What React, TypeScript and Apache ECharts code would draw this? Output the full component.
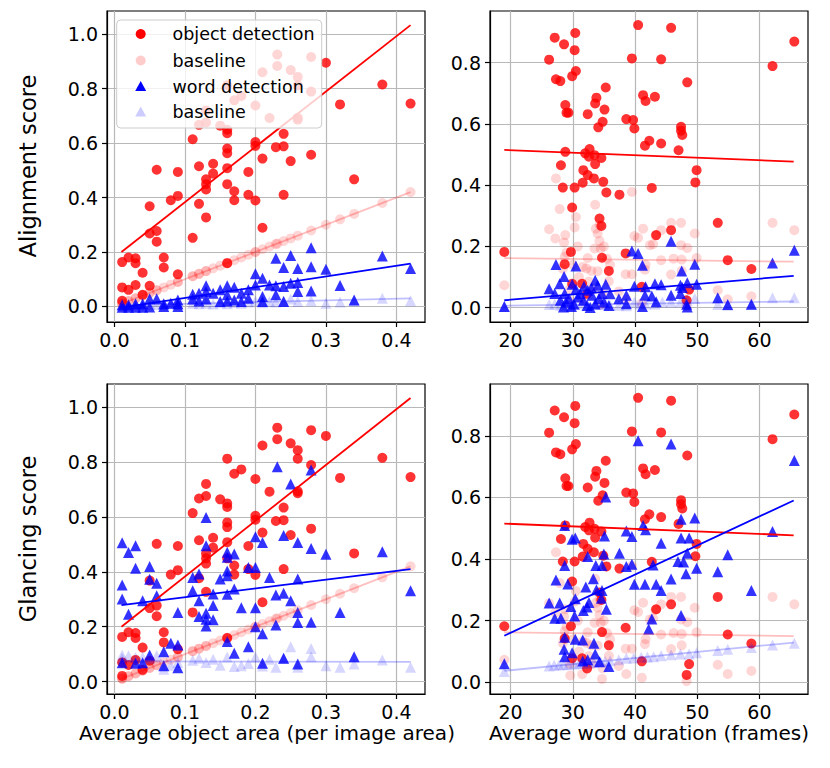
import React, { useEffect, useRef } from "react";
import * as echarts from "echarts";

// ---------- tick labels ----------
const ticksArea = [0, 0.1, 0.2, 0.3, 0.4];
const ticksDur = [20, 30, 40, 50, 60];
const ticksScoreLeft = [0, 0.2, 0.4, 0.6, 0.8, 1.0];
const ticksScoreRight = [0, 0.2, 0.4, 0.6, 0.8];

// ---------- left panels: x = average object area ----------
const objDetLeft: [number, number][] = [
  [0.231, 0.925], [0.231, 0.883], [0.21, 0.86], [0.25, 0.868], [0.26, 0.843], [0.26, 0.812],
  [0.279, 0.916], [0.3, 0.895], [0.38, 0.815], [0.42, 0.745], [0.32, 0.742], [0.16, 0.812],
  [0.17, 0.757], [0.18, 0.773], [0.2, 0.738], [0.22, 0.692], [0.26, 0.693], [0.26, 0.686],
  [0.279, 0.789], [0.13, 0.72], [0.12, 0.667], [0.13, 0.676], [0.15, 0.664], [0.16, 0.649],
  [0.16, 0.636], [0.111, 0.614], [0.34, 0.467], [0.279, 0.557], [0.24, 0.634], [0.229, 0.585],
  [0.24, 0.588], [0.25, 0.534], [0.2, 0.604], [0.2, 0.59], [0.21, 0.543], [0.19, 0.494],
  [0.19, 0.41], [0.2, 0.389], [0.24, 0.41], [0.21, 0.289], [0.16, 0.58], [0.16, 0.563],
  [0.16, 0.508], [0.16, 0.449], [0.17, 0.423], [0.17, 0.39], [0.12, 0.515], [0.14, 0.524],
  [0.14, 0.488], [0.13, 0.467], [0.13, 0.449], [0.13, 0.43], [0.12, 0.377], [0.13, 0.327],
  [0.111, 0.252], [0.09, 0.494], [0.09, 0.406], [0.08, 0.39], [0.06, 0.502], [0.05, 0.368],
  [0.05, 0.268], [0.06, 0.277], [0.06, 0.238], [0.07, 0.18], [0.07, 0.143], [0.09, 0.118],
  [0.03, 0.177], [0.03, 0.159], [0.02, 0.18], [0.011, 0.163], [0.04, 0.124], [0.03, 0.079],
  [0.05, 0.076], [0.011, 0.07], [0.02, 0.061], [0.04, 0.043], [0.011, 0.021], [0.16, 0.159],
];
const objBaseLeft: [number, number][] = [
  [0.011, 0.011], [0.011, 0.011], [0.011, 0.011], [0.02, 0.02], [0.02, 0.02], [0.03, 0.03],
  [0.03, 0.03], [0.04, 0.04], [0.04, 0.04], [0.05, 0.05], [0.05, 0.05], [0.06, 0.06],
  [0.06, 0.06], [0.07, 0.07], [0.08, 0.08], [0.09, 0.09], [0.09, 0.09], [0.111, 0.111],
  [0.111, 0.111], [0.12, 0.12], [0.12, 0.12], [0.13, 0.13], [0.13, 0.13], [0.14, 0.14],
  [0.15, 0.15], [0.16, 0.16], [0.16, 0.16], [0.17, 0.17], [0.18, 0.18], [0.19, 0.19],
  [0.2, 0.2], [0.2, 0.2], [0.21, 0.21], [0.22, 0.22], [0.229, 0.229], [0.231, 0.231],
  [0.24, 0.24], [0.25, 0.25], [0.26, 0.26], [0.279, 0.279], [0.3, 0.3], [0.32, 0.32],
  [0.34, 0.34], [0.38, 0.38], [0.42, 0.42],
];
const wordAlignLeft: [number, number][] = [
  [0.279, 0.216], [0.38, 0.185], [0.42, 0.139], [0.25, 0.187], [0.229, 0.177], [0.24, 0.143],
  [0.26, 0.139], [0.279, 0.146], [0.3, 0.137], [0.32, 0.077], [0.34, 0.024], [0.279, 0.057],
  [0.26, 0.055], [0.26, 0.088], [0.25, 0.085], [0.24, 0.073], [0.229, 0.076], [0.22, 0.079],
  [0.2, 0.12], [0.21, 0.104], [0.2, 0.079], [0.19, 0.061], [0.18, 0.049], [0.19, 0.03],
  [0.21, 0.037], [0.229, 0.043], [0.24, 0.018], [0.21, 0.018], [0.17, 0.071], [0.16, 0.076],
  [0.15, 0.061], [0.16, 0.043], [0.17, 0.024], [0.13, 0.076], [0.13, 0.055], [0.14, 0.049],
  [0.12, 0.049], [0.111, 0.045], [0.111, 0.027], [0.13, 0.027], [0.09, 0.024], [0.09, 0.01],
  [0.08, 0.012], [0.07, 0.01], [0.06, 0.028], [0.05, 0.028], [0.04, 0.01], [0.03, 0.01],
  [0.02, 0.006], [0.011, 0.006], [0.011, -0.003], [0.02, -0.003], [0.03, -0.003], [0.04, -0.003],
  [0.05, -0.002], [0.07, 0.0], [0.09, 0.0], [0.15, 0.018], [0.18, 0.018], [0.16, 0.02], [0.12, 0.02],
];
const wordAlignBaseLeft: [number, number][] = [
  [0.011, 0.004], [0.02, 0.005], [0.03, 0.006], [0.04, 0.005], [0.05, 0.008], [0.06, 0.007],
  [0.07, 0.006], [0.08, 0.01], [0.09, 0.008], [0.111, 0.012], [0.12, 0.01], [0.13, 0.012],
  [0.14, 0.009], [0.15, 0.014], [0.16, 0.01], [0.17, 0.015], [0.18, 0.012], [0.19, 0.016],
  [0.2, 0.02], [0.21, 0.014], [0.22, 0.018], [0.229, 0.016], [0.24, 0.02], [0.25, 0.027],
  [0.26, 0.018], [0.279, 0.021], [0.3, 0.012], [0.32, 0.016], [0.34, 0.02], [0.38, 0.03],
  [0.42, 0.021],
];
const wordGlanceLeft: [number, number][] = [
  [0.231, 0.783], [0.279, 0.771], [0.25, 0.72], [0.13, 0.598], [0.2, 0.528], [0.21, 0.507],
  [0.24, 0.532], [0.26, 0.507], [0.279, 0.485], [0.3, 0.464], [0.38, 0.473], [0.42, 0.331],
  [0.32, 0.252], [0.34, 0.091], [0.011, 0.506], [0.02, 0.47], [0.03, 0.495], [0.03, 0.413],
  [0.05, 0.419], [0.05, 0.373], [0.06, 0.358], [0.011, 0.352], [0.011, 0.301], [0.04, 0.295],
  [0.06, 0.313], [0.02, 0.245], [0.09, 0.252], [0.13, 0.495], [0.16, 0.471], [0.16, 0.453],
  [0.17, 0.465], [0.16, 0.403], [0.16, 0.386], [0.15, 0.374], [0.111, 0.379], [0.12, 0.392],
  [0.111, 0.331], [0.12, 0.295], [0.14, 0.319], [0.16, 0.318], [0.17, 0.337], [0.14, 0.277],
  [0.12, 0.237], [0.13, 0.249], [0.13, 0.227], [0.14, 0.225], [0.13, 0.203], [0.18, 0.269],
  [0.19, 0.416], [0.2, 0.416], [0.2, 0.269], [0.22, 0.379], [0.229, 0.316], [0.24, 0.322],
  [0.25, 0.295], [0.26, 0.374], [0.26, 0.252], [0.26, 0.215], [0.279, 0.216], [0.229, 0.206],
  [0.2, 0.2], [0.21, 0.174], [0.19, 0.127], [0.16, 0.146], [0.17, 0.103], [0.08, 0.14],
  [0.09, 0.133], [0.05, 0.097], [0.07, 0.109], [0.011, 0.069], [0.03, 0.067], [0.04, 0.069],
  [0.07, 0.058], [0.09, 0.051], [0.21, 0.067], [0.24, 0.085], [0.26, 0.064],
];
const wordGlanceBaseLeft: [number, number][] = [
  [0.011, 0.097], [0.011, 0.085], [0.02, 0.094], [0.03, 0.088], [0.04, 0.09], [0.05, 0.083],
  [0.06, 0.095], [0.07, 0.045], [0.08, 0.06], [0.09, 0.07], [0.111, 0.078], [0.12, 0.085],
  [0.13, 0.07], [0.14, 0.082], [0.15, 0.06], [0.16, 0.09], [0.17, 0.055], [0.18, 0.058],
  [0.19, 0.066], [0.2, 0.09], [0.21, 0.057], [0.22, 0.082], [0.229, 0.052], [0.24, 0.084],
  [0.25, 0.127], [0.26, 0.052], [0.279, 0.121], [0.279, 0.091], [0.3, 0.058], [0.32, 0.052],
  [0.34, 0.064], [0.38, 0.079], [0.42, 0.052],
];

// ---------- right panels: x = average word duration ----------
const objDetRight: [number, number][] = [
  [40.5, 0.923], [45.8, 0.914], [65.6, 0.869], [62.1, 0.789], [27.1, 0.882], [28.6, 0.86],
  [30.4, 0.897], [30.3, 0.841], [26.2, 0.81], [39.5, 0.814], [44.2, 0.811], [30.5, 0.773],
  [29.9, 0.756], [27.3, 0.746], [28.0, 0.74], [48.4, 0.736], [35.3, 0.719], [41.3, 0.694],
  [41.7, 0.675], [43.2, 0.689], [33.8, 0.686], [33.6, 0.667], [35.1, 0.647], [28.8, 0.662],
  [29.0, 0.637], [29.3, 0.637], [32.4, 0.632], [38.6, 0.616], [39.7, 0.613], [39.9, 0.585],
  [34.8, 0.607], [34.1, 0.589], [47.4, 0.591], [47.4, 0.578], [47.6, 0.564], [42.3, 0.545],
  [41.6, 0.529], [44.2, 0.536], [47.0, 0.514], [28.8, 0.509], [32.7, 0.518], [32.0, 0.504],
  [32.6, 0.493], [33.5, 0.498], [34.6, 0.489], [33.6, 0.469], [28.1, 0.465], [31.7, 0.449],
  [32.4, 0.433], [33.4, 0.422], [31.6, 0.408], [34.9, 0.411], [28.4, 0.392], [30.3, 0.392],
  [35.4, 0.376], [37.5, 0.369], [42.7, 0.391], [49.9, 0.449], [49.7, 0.409], [29.9, 0.327],
  [34.3, 0.291], [34.6, 0.267], [53.3, 0.277], [45.8, 0.253], [43.4, 0.237], [19.0, 0.182],
  [29.7, 0.182], [38.5, 0.177], [28.7, 0.142], [34.7, 0.163], [35.8, 0.12], [54.9, 0.155],
  [58.7, 0.126], [29.9, 0.078], [31.5, 0.078], [41.1, 0.068], [48.7, 0.059], [48.3, 0.024],
  [32.3, 0.045],
];
const objBaseRight: [number, number][] = [
  [27.3, 0.422], [27.9, 0.322], [30.5, 0.296], [30.3, 0.262], [26.2, 0.256], [28.8, 0.237],
  [27.2, 0.226], [28.6, 0.213], [33.6, 0.336], [33.7, 0.258], [34.0, 0.242], [34.3, 0.218],
  [33.5, 0.193], [34.5, 0.193], [39.5, 0.378], [39.9, 0.234], [41.3, 0.258], [40.5, 0.228],
  [42.4, 0.204], [42.9, 0.207], [44.2, 0.253], [45.8, 0.277], [47.4, 0.277], [49.6, 0.242],
  [47.4, 0.204], [48.4, 0.195], [47.5, 0.157], [49.9, 0.162], [44.2, 0.155], [41.6, 0.124],
  [39.5, 0.109], [38.5, 0.109], [45.8, 0.108], [47.5, 0.12], [62.1, 0.277], [65.6, 0.253],
  [53.3, 0.057], [54.9, 0.027], [58.7, 0.037], [19.0, 0.073], [28.7, 0.166], [31.6, 0.133],
  [32.4, 0.162], [32.2, 0.128], [34.0, 0.119], [35.8, 0.086], [37.4, 0.053], [29.0, 0.18],
  [30.0, 0.14], [31.0, 0.1], [32.6, 0.085], [33.2, 0.06], [34.8, 0.045], [35.5, 0.16],
  [35.0, 0.2], [30.8, 0.2], [29.5, 0.06], [29.6, 0.022], [31.5, 0.026], [34.7, 0.011],
  [38.6, 0.027], [41.1, 0.015], [48.3, 0.004], [36.0, 0.14], [28.4, 0.127], [34.3, 0.27],
  [33.0, 0.12], [41.7, 0.14], [43.3, 0.235], [46.2, 0.16],
];
const wordAlignRight: [number, number][] = [
  [45.8, 0.217], [39.5, 0.185], [40.5, 0.177], [65.6, 0.187], [62.1, 0.146], [41.2, 0.138],
  [49.6, 0.142], [27.3, 0.141], [30.5, 0.136], [47.5, 0.12], [28.6, 0.102], [33.6, 0.089],
  [27.9, 0.078], [26.2, 0.062], [29.9, 0.076], [32.4, 0.057], [34.0, 0.073], [35.3, 0.076],
  [37.4, 0.029], [38.6, 0.04], [39.9, 0.07], [41.7, 0.068], [43.2, 0.078], [44.2, 0.075],
  [45.8, 0.04], [47.3, 0.073], [48.4, 0.081], [49.9, 0.076], [53.3, 0.032], [54.9, 0.01],
  [58.7, 0.011], [19.0, 0.004], [38.6, 0.013], [41.2, 0.004], [43.4, 0.019], [48.3, 0.011],
  [48.4, 0.002], [27.1, 0.046], [28.7, 0.046], [28.9, 0.018], [29.4, 0.03], [30.2, 0.012],
  [31.2, 0.045], [31.7, 0.024], [32.3, 0.007], [33.1, 0.04], [34.2, 0.03], [34.7, 0.046],
  [35.0, 0.018], [35.8, 0.007], [33.6, 0.012], [29.8, 0.004], [28.5, 0.002], [28.0, 0.024],
  [47.3, 0.046], [47.6, 0.066], [41.6, 0.04], [42.7, 0.038], [30.5, 0.06], [31.8, 0.07],
  [33.0, 0.065], [36.0, 0.045], [32.8, 0.0], [30.8, 0.035],
];
const wordAlignBaseRight: [number, number][] = [
  [19.0, 0.004], [26.2, 0.01], [27.1, 0.012], [28.0, 0.008], [28.7, 0.012], [29.5, 0.006],
  [30.3, 0.01], [31.5, 0.012], [32.4, 0.008], [33.6, 0.011], [34.6, 0.01], [35.3, 0.012],
  [36.0, 0.008], [37.4, 0.008], [38.6, 0.006], [39.9, 0.018], [40.8, 0.012], [41.7, 0.012],
  [43.2, 0.012], [44.4, 0.018], [45.8, 0.018], [47.3, 0.018], [48.4, 0.024], [49.6, 0.03],
  [53.3, 0.01], [54.9, 0.008], [58.7, 0.01], [62.1, 0.032], [65.6, 0.032],
];
const wordGlanceRight: [number, number][] = [
  [40.5, 0.784], [45.8, 0.773], [65.6, 0.72], [35.3, 0.601], [62.1, 0.489], [28.7, 0.509],
  [49.6, 0.533], [47.4, 0.529], [41.3, 0.509], [41.7, 0.495], [38.6, 0.491], [39.5, 0.473],
  [35.1, 0.475], [30.4, 0.468], [29.9, 0.464], [47.4, 0.468], [48.7, 0.468], [44.2, 0.451],
  [48.4, 0.419], [54.9, 0.414], [37.5, 0.419], [35.0, 0.416], [32.4, 0.408], [46.9, 0.392],
  [47.8, 0.39], [49.9, 0.37], [42.9, 0.381], [39.5, 0.383], [38.6, 0.376], [33.7, 0.379],
  [34.7, 0.379], [28.7, 0.379], [48.2, 0.352], [53.3, 0.359], [27.3, 0.332], [29.2, 0.319],
  [33.3, 0.336], [39.9, 0.318], [41.6, 0.318], [43.4, 0.318], [45.8, 0.335], [44.2, 0.298],
  [32.1, 0.309], [33.8, 0.3], [34.7, 0.298], [34.6, 0.273], [58.7, 0.298], [26.2, 0.257],
  [27.9, 0.257], [29.7, 0.246], [30.4, 0.271], [32.6, 0.259], [32.3, 0.244], [31.7, 0.233],
  [35.4, 0.237], [27.1, 0.208], [28.1, 0.208], [30.3, 0.215], [47.4, 0.217], [42.7, 0.205],
  [42.2, 0.173], [28.7, 0.146], [30.4, 0.14], [31.6, 0.137], [33.4, 0.127], [28.6, 0.107],
  [29.9, 0.096], [33.6, 0.092], [31.6, 0.069], [32.4, 0.073], [34.3, 0.067], [35.8, 0.051],
  [19.0, 0.06], [28.7, 0.083],
];
const wordGlanceBaseRight: [number, number][] = [
  [19.0, 0.035], [26.2, 0.053], [27.0, 0.055], [27.8, 0.056], [28.5, 0.058], [29.3, 0.057],
  [30.2, 0.06], [31.0, 0.06], [31.8, 0.062], [32.6, 0.063], [33.4, 0.065], [34.5, 0.067],
  [35.2, 0.068], [36.0, 0.07], [37.4, 0.073], [38.6, 0.078], [39.8, 0.079], [41.0, 0.081],
  [42.0, 0.082], [43.0, 0.083], [44.2, 0.086], [45.8, 0.089], [47.3, 0.092], [48.7, 0.092],
  [49.9, 0.096], [53.3, 0.103], [54.9, 0.107], [58.7, 0.113], [62.1, 0.121], [65.6, 0.127],
];

// ---------- fitted lines (end points) ----------
const fitObjLeft: [number, number][] = [[0.01, 0.2], [0.42, 1.033]];
const fitObjBaseLeft: [number, number][] = [[0.01, 0.01], [0.42, 0.42]];
const fitWordAlignLeft: [number, number][] = [[0.01, -0.004], [0.42, 0.157]];
const fitWordAlignBaseLeft: [number, number][] = [[0.01, 0.004], [0.42, 0.03]];
const fitWordGlanceLeft: [number, number][] = [[0.01, 0.279], [0.42, 0.41]];
const fitWordGlanceBaseLeft: [number, number][] = [[0.01, 0.074], [0.42, 0.072]];
const fitObjRight: [number, number][] = [[19, 0.515], [65.5, 0.477]];
const fitObjBaseRight: [number, number][] = [[19, 0.162], [65.5, 0.15]];
const fitWordAlignRight: [number, number][] = [[19, 0.024], [65.5, 0.104]];
const fitWordAlignBaseRight: [number, number][] = [[19, 0.006], [65.5, 0.02]];
const fitWordGlanceRight: [number, number][] = [[19, 0.151], [65.5, 0.59]];
const fitWordGlanceBaseRight: [number, number][] = [[19, 0.037], [65.5, 0.129]];

const RED = "#ff0000";
const BLUE = "#0000ff";
const RED_L = "rgba(255,0,0,0.2)";
const BLUE_L = "rgba(0,0,255,0.2)";
const FONT = "DejaVu Sans";

function axis(gridIndex: number, min: number, max: number, ticks: number[], fmt: (v: number) => string) {
  return {
    type: "value",
    gridIndex,
    min,
    max,
    axisLine: { show: true, onZero: false, lineStyle: { color: "#000", width: 1.2 } },
    axisTick: { show: true, inside: false, length: 5, customValues: ticks, lineStyle: { color: "#000", width: 1.2 } },
    axisLabel: {
      show: true,
      customValues: ticks,
      formatter: (v: number) => fmt(v),
      margin: 9,
      color: "#000",
      fontSize: 19,
      lineHeight: 17,
      fontFamily: FONT,
    },
    splitLine: { show: true, lineStyle: { color: "#b8b8b8", width: 1.2 } },
  };
}

function scatter(name: string, idx: number, data: [number, number][], shape: string, color: string, size: number) {
  return {
    name,
    type: "scatter",
    xAxisIndex: idx,
    yAxisIndex: idx,
    data,
    symbol: shape,
    symbolSize: size,
    itemStyle: { color },
    z: 2,
    silent: true,
  };
}

function fit(idx: number, data: [number, number][], color: string) {
  return {
    type: "line",
    xAxisIndex: idx,
    yAxisIndex: idx,
    data,
    showSymbol: false,
    symbol: "none",
    lineStyle: { color, width: 1.8 },
    z: 3,
    silent: true,
  };
}

const f1 = (v: number) => v.toFixed(1);
const f0 = (v: number) => String(Math.round(v));

export default function App() {
  const ref = useRef<HTMLDivElement>(null);
  useEffect(() => {
    if (!ref.current) return;
    const chart = echarts.init(ref.current, undefined, { renderer: "svg" });
    const grids = [
      { left: 107, top: 11, width: 318, height: 311 },
      { left: 490, top: 11, width: 318, height: 311 },
      { left: 107, top: 384, width: 318, height: 310 },
      { left: 490, top: 384, width: 318, height: 310 },
    ].map((g) => ({ ...g, show: true, borderColor: "#000", borderWidth: 1.2, backgroundColor: "#fff", containLabel: false, outerBoundsMode: "none" }));

    const series: any[] = [];
    const panels = [
      { obj: objDetLeft, objB: objBaseLeft, w: wordAlignLeft, wB: wordAlignBaseLeft, fo: fitObjLeft, foB: fitObjBaseLeft, fw: fitWordAlignLeft, fwB: fitWordAlignBaseLeft },
      { obj: objDetRight, objB: objBaseRight, w: wordAlignRight, wB: wordAlignBaseRight, fo: fitObjRight, foB: fitObjBaseRight, fw: fitWordAlignRight, fwB: fitWordAlignBaseRight },
      { obj: objDetLeft, objB: objBaseLeft, w: wordGlanceLeft, wB: wordGlanceBaseLeft, fo: fitObjLeft, foB: fitObjBaseLeft, fw: fitWordGlanceLeft, fwB: fitWordGlanceBaseLeft },
      { obj: objDetRight, objB: objBaseRight, w: wordGlanceRight, wB: wordGlanceBaseRight, fo: fitObjRight, foB: fitObjBaseRight, fw: fitWordGlanceRight, fwB: fitWordGlanceBaseRight },
    ];
    panels.forEach((p, i) => {
      series.push(scatter("object detection", i, p.obj, "circle", RED, 10));
      series.push(scatter("baseline (object)", i, p.objB, "circle", RED_L, 10));
      series.push(scatter("word detection", i, p.w, "triangle", BLUE, 11));
      series.push(scatter("baseline (word)", i, p.wB, "triangle", BLUE_L, 11));
      series.push(fit(i, p.fo, RED));
      series.push(fit(i, p.foB, "rgba(255,0,0,0.25)"));
      series.push(fit(i, p.fw, BLUE));
      series.push(fit(i, p.fwB, "rgba(0,0,255,0.25)"));
    });

    const lx = 140.7;
    const ly = [34, 60.5, 86.5, 112];
    const legendText = ["object detection", "baseline", "word detection", "baseline"];
    const tri = (cx: number, cy: number) => [[cx, cy - 5.5], [cx - 5.5, cy + 4.5], [cx + 5.5, cy + 4.5]];

    const option: any = {
      animation: false,
      backgroundColor: "#fff",
      grid: grids,
      xAxis: [
        axis(0, -0.0105, 0.4405, ticksArea, f1),
        axis(1, 16.7, 67.8, ticksDur, f0),
        axis(2, -0.0105, 0.4405, ticksArea, f1),
        axis(3, 16.7, 67.8, ticksDur, f0),
      ],
      yAxis: [
        axis(0, -0.057, 1.085, ticksScoreLeft, f1),
        axis(1, -0.047, 0.969, ticksScoreRight, f1),
        axis(2, -0.045, 1.084, ticksScoreLeft, f1),
        axis(3, -0.038, 0.968, ticksScoreRight, f1),
      ],
      series,
      graphic: [
        {
          type: "rect",
          z: 100,
          shape: { x: 116.7, y: 20, width: 205, height: 108, r: 4 },
          style: { fill: "rgba(255,255,255,0.8)", stroke: "#cccccc", lineWidth: 1 },
        },
        { type: "circle", z: 101, shape: { cx: lx, cy: ly[0], r: 5 }, style: { fill: RED } },
        { type: "circle", z: 101, shape: { cx: lx, cy: ly[1], r: 5 }, style: { fill: RED_L } },
        { type: "polygon", z: 101, shape: { points: tri(lx, ly[2]) }, style: { fill: BLUE } },
        { type: "polygon", z: 101, shape: { points: tri(lx, ly[3]) }, style: { fill: BLUE_L } },
        ...legendText.map((t, i) => ({
          type: "text",
          z: 101,
          x: 172.5,
          y: ly[i],
          style: { text: t, fill: "#000", font: `17.5px '${FONT}'`, align: "left", verticalAlign: "middle" },
        })),
        {
          type: "text",
          z: 101,
          x: 28,
          y: 166,
          rotation: Math.PI / 2,
          style: { text: "Alignment score", fill: "#000", font: `22.5px '${FONT}'`, align: "center", verticalAlign: "middle" },
        },
        {
          type: "text",
          z: 101,
          x: 28,
          y: 539,
          rotation: Math.PI / 2,
          style: { text: "Glancing score", fill: "#000", font: `22.5px '${FONT}'`, align: "center", verticalAlign: "middle" },
        },
        {
          type: "text",
          z: 101,
          x: 267,
          y: 733,
          style: { text: "Average object area (per image area)", fill: "#000", font: `20px '${FONT}'`, lineHeight: 18, align: "center", verticalAlign: "middle" },
        },
        {
          type: "text",
          z: 101,
          x: 649,
          y: 733,
          style: { text: "Average word duration (frames)", fill: "#000", font: `20px '${FONT}'`, lineHeight: 18, align: "center", verticalAlign: "middle" },
        },
      ],
    };
    chart.setOption(option);
    return () => chart.dispose();
  }, []);
  return <div ref={ref} style={{ position: "absolute", left: 0, top: 0, width: 830, height: 768 }} />;
}
